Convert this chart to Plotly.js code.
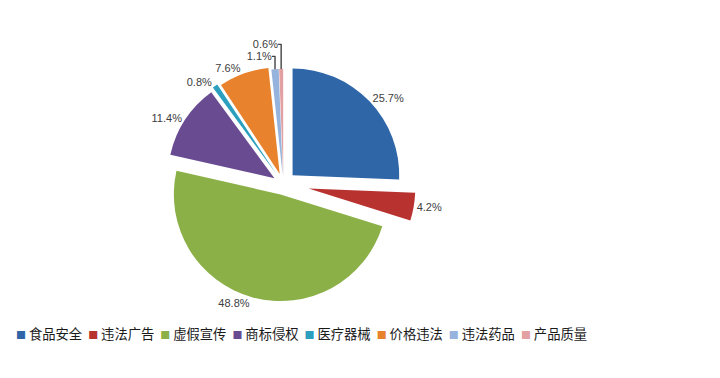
<!DOCTYPE html>
<html><head><meta charset="utf-8">
<script src="https://cdn.plot.ly/plotly-3.0.1.min.js"></script>
<style>html,body{margin:0;padding:0;background:#fff}#c{width:720px;height:378px}</style>
</head><body><div id="c"></div>
<script>
const categories = ['食品安全','违法广告','虚假宣传','商标侵权','医疗器械','价格违法','违法药品','产品质量'];
const values = [25.7, 4.2, 48.8, 11.4, 0.8, 7.6, 1.1, 0.6];
const colors = ['#2F66A8','#B8322F','#8CB048','#694B92','#2AA0BE','#E8822C','#95B3DC','#E3A0A2'];
const pulls = [0.12, 0.24, 0.1, 0.1, 0.12, 0.1, 0.08, 0.08];

const legendText = categories.map((c, i) =>
  '<span style="color:' + colors[i] + ';font-size:10px">■</span> ' + c).join('  ');

Plotly.newPlot('c', [{
  type: 'pie',
  labels: categories,
  values: values,
  sort: false,
  direction: 'clockwise',
  rotation: 0,
  pull: pulls,
  marker: {colors: colors, line: {color: '#ffffff', width: 0}},
  textposition: 'outside',
  texttemplate: '%{value:.1f}%',
  textfont: {family: 'Liberation Sans, Arial, sans-serif', size: 11, color: '#404040'},
  domain: {x: [0.206, 0.581], y: [0.163, 0.863]},
  hoverinfo: 'label+value',
  showlegend: false
}], {
  width: 720, height: 378,
  margin: {l: 0, r: 0, t: 0, b: 0},
  paper_bgcolor: '#ffffff',
  showlegend: false,
  annotations: [{
    xref: 'paper', yref: 'paper', x: 0.02, y: 0.119,
    xanchor: 'left', yanchor: 'middle', showarrow: false,
    text: legendText,
    font: {family: 'Noto Sans CJK SC, sans-serif', size: 13.3, color: '#1a1a1a'}
  }]
}, {displayModeBar: false});
</script></body></html>
